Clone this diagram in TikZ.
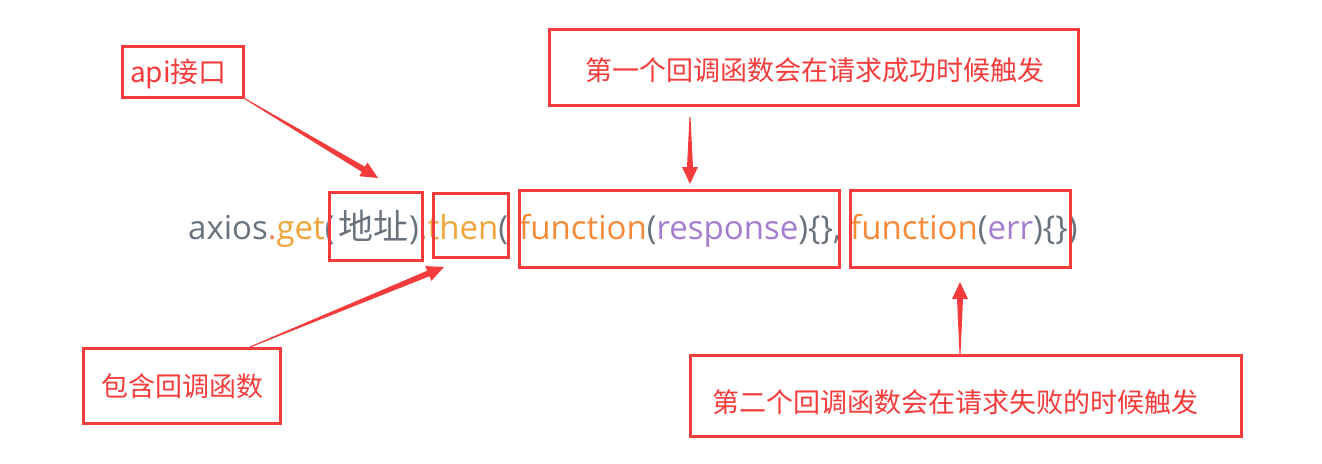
\documentclass[tikz,border=0pt]{standalone}
\usepackage{fontspec}
\setmainfont{Open Sans}
\newfontfamily\cjk{Noto Sans CJK SC}
\usetikzlibrary{calc}
\definecolor{boxred}{HTML}{F53C3C}
\definecolor{codegray}{HTML}{6A737D}
\definecolor{codegold}{HTML}{F2A33A}
\definecolor{codeorange}{HTML}{F78A38}
\definecolor{codepurple}{HTML}{A57DCF}
\definecolor{codedot}{HTML}{EA8A5E}
\tikzset{
  redbox/.style={draw=boxred, line width=3pt, inner sep=0pt},
  label/.style={text=boxred, font=\cjk\fontsize{27}{32}\selectfont, inner sep=0pt},
  code/.style={anchor=base west, inner sep=0pt, text=codegray, font=\fontsize{33}{40}\selectfont},
}
\begin{document}
\begin{tikzpicture}[x=1pt,y=-1pt]
\useasboundingbox (0,0) rectangle (1322,463);
\fill[white] (0,0) rectangle (1322,463);
% code line
\node[code] (g1) at (188,239) {axios\textcolor{codedot}{.}\textcolor{codegold}{get}(};
\node[code, font=\cjk\fontsize{35}{40}\selectfont] (g2) at (338,239) {地址};
\node[code] (g3) at (409,239) {)\textcolor{codedot}{.}\textcolor{codegold}{then}(};
\node[code] (g4) at (519,239) {\textcolor{codeorange}{function}(\textcolor{codepurple}{response})\{\},};
\node[code] (g5) at (850,239) {\textcolor{codeorange}{function}(\textcolor{codepurple}{err})\{\})};
% code boxes
\node[redbox, minimum width=93pt, minimum height=68pt] (b1) at (375.5,226) {};
\node[redbox, minimum width=75pt, minimum height=64pt] (b2) at (470.5,225) {};
\node[redbox, minimum width=320pt, minimum height=77pt] (b3) at (679,228.5) {};
\node[redbox, minimum width=220pt, minimum height=77pt] (b4) at (960,228.5) {};
% label boxes
\node[redbox, minimum width=121pt, minimum height=51pt] (api) at (182.5,71.5) {};
\node[label, font=\cjk\fontsize{28}{32}\selectfont] (apit) at (178.5,74) {api接口};
\node[redbox, minimum width=529pt, minimum height=76pt] (top) at (813.5,67) {};
\node[label] (topt) at (814.5,70) {第一个回调函数会在请求成功时候触发};
\node[redbox, minimum width=197pt, minimum height=75pt] (inc) at (181.5,385.5) {};
\node[label] (inct) at (182.5,386) {包含回调函数};
\node[redbox, minimum width=551pt, minimum height=81pt] (bot) at (965.5,395.5) {};
\node[label] (bott) at (955,402) {第二个回调函数会在请求失败的时候触发};
% arrows
\coordinate (t1) at (378,178);
\coordinate (t2) at (444,267);
\coordinate (s2) at (250,347);
\coordinate (s3) at (690,117);
\coordinate (t3) at (690,184);
\coordinate (t4) at (960,282);
\coordinate (s4) at (960,354);
\foreach \s/\t in {api.south east/t1, s2/t2, s3/t3, s4/t4}{
  \path coordinate (tph) at ($(\t)!17pt!(\s)$);
  \fill[boxred] ($(\s)!0.5pt!90:(\t)$) -- ($(tph)!3pt!90:(\t)$) -- ($(tph)!8pt!90:(\t)$) -- (\t)
    -- ($(tph)!8pt!-90:(\t)$) -- ($(tph)!3pt!-90:(\t)$) -- ($(\s)!0.5pt!-90:(\t)$) -- cycle;
}
\end{tikzpicture}
\end{document}
